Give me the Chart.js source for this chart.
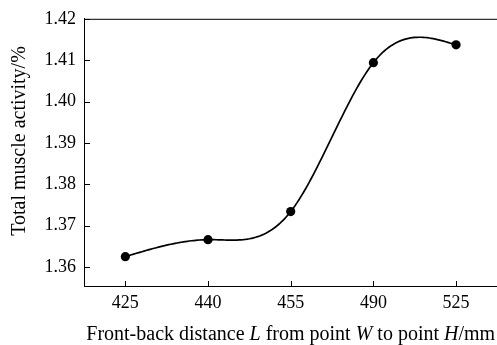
<!DOCTYPE html>
<html>
<head>
<meta charset="utf-8">
<script src="https://cdn.jsdelivr.net/npm/chart.js@4.4.1/dist/chart.umd.min.js"></script>
<style>
html,body{margin:0;padding:0;background:#fff;overflow:hidden;}
#wrap{width:502px;height:345px;position:relative;}
</style>
</head>
<body>
<div id="wrap"><canvas id="lineChart"></canvas></div>
<script>

//=============================
// DATA
//=============================

const distances = ["425","440","455","490","525"];

const activity = [1.3625,1.3666,1.3734,1.4094,1.4137];

const yTicks = [1.36,1.37,1.38,1.39,1.40,1.41,1.42];

const yMin = 1.3554;
const yMax = 1.42;

const FONT = "'Liberation Serif','Times New Roman',serif";

//=============================
// PLUGINS
//=============================

// natural cubic spline (second derivatives) through the points
function naturalSpline(xs,ys){
    const n = xs.length;
    const h = [];
    for(let i=0;i<n-1;i++) h.push(xs[i+1]-xs[i]);
    const M = new Array(n).fill(0);
    const m = n-2;
    const lo=[],di=[],up=[],rhs=[];
    for(let i=1;i<n-1;i++){
        lo.push(h[i-1]);
        di.push(2*(h[i-1]+h[i]));
        up.push(h[i]);
        rhs.push(6*((ys[i+1]-ys[i])/h[i]-(ys[i]-ys[i-1])/h[i-1]));
    }
    for(let i=1;i<m;i++){
        const w = lo[i]/di[i-1];
        di[i] -= w*up[i-1];
        rhs[i] -= w*rhs[i-1];
    }
    for(let i=m-1;i>=0;i--){
        M[i+1] = (rhs[i] - (i<m-1 ? up[i]*M[i+2] : 0))/di[i];
    }
    return M;
}

const splinePlugin = {
    id:"splineLine",
    beforeDatasetsDraw(chart){
        const xs = chart.scales.x, ys = chart.scales.y;
        const px = activity.map((v,i)=>xs.getPixelForValue(i));
        const py = activity.map(v=>ys.getPixelForValue(v));
        const M = naturalSpline(px,py);
        const ctx = chart.ctx;
        ctx.save();
        ctx.beginPath();
        ctx.strokeStyle="#000";
        ctx.lineWidth=1.7;
        ctx.lineJoin="round";
        ctx.moveTo(px[0],py[0]);
        for(let i=0;i<px.length-1;i++){
            const h = px[i+1]-px[i];
            for(let s=1;s<=40;s++){
                const x = px[i]+h*s/40;
                const A = (px[i+1]-x)/h, B = (x-px[i])/h;
                const y = A*py[i]+B*py[i+1]
                    +((A*A*A-A)*M[i]+(B*B*B-B)*M[i+1])*h*h/6;
                ctx.lineTo(x,y);
            }
        }
        ctx.stroke();
        ctx.restore();
    }
};

const framePlugin = {
    id:"frame",
    afterDraw(chart){
        const ctx = chart.ctx, a = chart.chartArea;
        const xs = chart.scales.x, ys = chart.scales.y;
        ctx.save();
        ctx.strokeStyle="#000";
        ctx.lineWidth=1;
        ctx.strokeRect(a.left+0.5,a.top+0.5,a.right-a.left,a.bottom-a.top);
        ctx.beginPath();
        ys.ticks.forEach(t=>{
            const y = Math.round(ys.getPixelForValue(t.value))+0.5;
            ctx.moveTo(a.left,y);
            ctx.lineTo(a.left+6,y);
        });
        xs.ticks.forEach((t,i)=>{
            const x = Math.round(xs.getPixelForValue(i))+0.5;
            ctx.moveTo(x,a.bottom);
            ctx.lineTo(x,a.bottom-5);
        });
        ctx.stroke();

        ctx.fillStyle="#000";
        const size = 20;

        // y title
        ctx.save();
        ctx.translate(20,141);
        ctx.rotate(-Math.PI/2);
        ctx.font = size+"px "+FONT;
        ctx.textAlign="center";
        ctx.textBaseline="middle";
        ctx.fillText("Total muscle activity/%",0,0);
        ctx.restore();

        // x title with italic symbols
        const parts = [
            ["Front-back distance ",false],
            ["L",true],
            [" from point ",false],
            ["W",true],
            [" to point ",false],
            ["H",true],
            ["/mm",false]
        ];
        let total = 0;
        parts.forEach(p=>{
            ctx.font = (p[1]?"italic ":"")+size+"px "+FONT;
            total += ctx.measureText(p[0]).width;
        });
        let x = (a.left+a.right)/2 - total/2;
        ctx.textAlign="left";
        ctx.textBaseline="alphabetic";
        parts.forEach(p=>{
            ctx.font = (p[1]?"italic ":"")+size+"px "+FONT;
            ctx.fillText(p[0],x,340);
            x += ctx.measureText(p[0]).width;
        });
        ctx.restore();
    }
};

//=============================
// CHART
//=============================

new Chart(document.getElementById("lineChart"),{

type:"line",

data:{
    labels:distances,
    datasets:[{
        data:activity,
        showLine:false,
        pointRadius:4.6,
        pointHoverRadius:4.6,
        pointBackgroundColor:"#000",
        pointBorderColor:"#000",
        pointBorderWidth:0
    }]
},

options:{
    responsive:true,
    maintainAspectRatio:false,
    animation:false,
    events:[],
    layout:{
        padding:{top:16,right:2,bottom:0,left:0}
    },
    plugins:{
        legend:{display:false},
        tooltip:{enabled:false}
    },
    scales:{
        x:{
            offset:true,
            grid:{display:false,drawTicks:false,offset:true},
            border:{display:true,color:"#000",width:1},
            ticks:{
                color:"#000",
                padding:6,
                maxRotation:0,
                font:{family:FONT,size:18}
            },
            afterFit(scale){ scale.height = 59; }
        },
        y:{
            min:yMin,
            max:yMax,
            grid:{display:false,drawTicks:false},
            border:{display:true,color:"#000",width:1},
            afterBuildTicks(scale){
                scale.ticks = yTicks.map(v=>({value:v}));
            },
            ticks:{
                color:"#000",
                padding:8,
                font:{family:FONT,size:18},
                callback:v=>Number(v).toFixed(2)
            },
            afterFit(scale){ scale.width = 84; }
        }
    }
},

plugins:[splinePlugin,framePlugin]

});

</script>
</body>
</html>
